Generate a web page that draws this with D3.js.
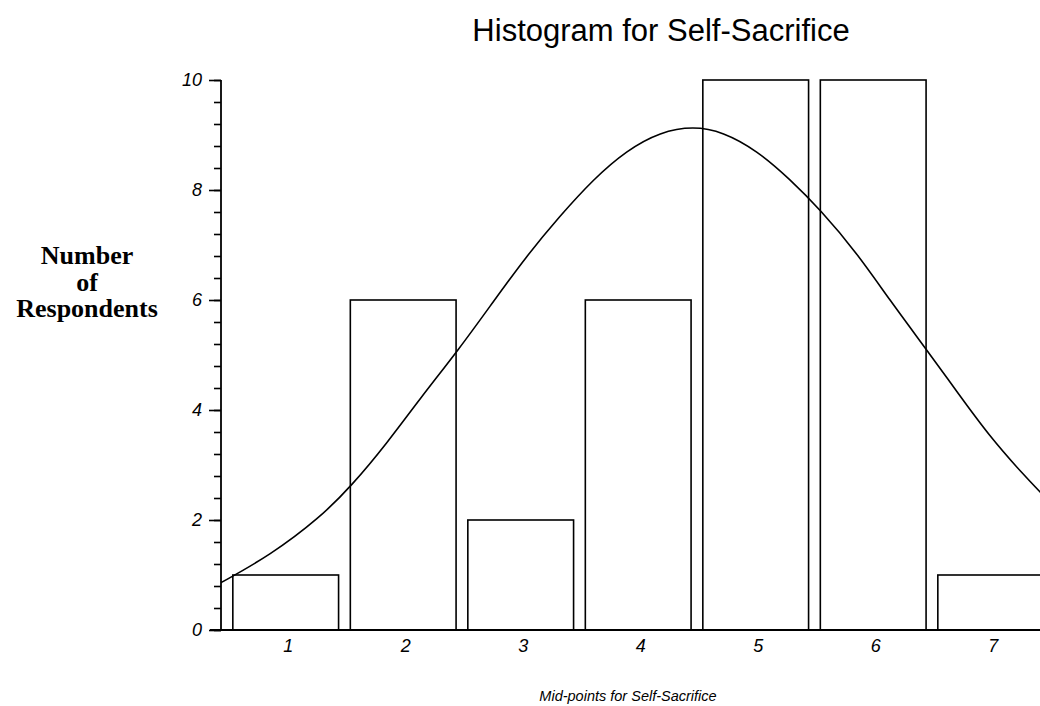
<!DOCTYPE html>
<html>
<head>
<meta charset="utf-8">
<script src="https://cdn.jsdelivr.net/npm/d3@7"></script>
<style>
  html, body { margin: 0; padding: 0; background: #fff; }
  svg { display: block; }
</style>
</head>
<body>
<svg id="chart" width="1040" height="706"></svg>
<script>
// Mid-point categories and their respondent counts
const midpoints = [1, 2, 3, 4, 5, 6, 7];
const counts = [1, 6, 2, 6, 10, 10, 1];

// Fitted normal curve, sampled along the mid-point axis
const curveX = [0.44, 0.87, 1.29, 1.56, 1.86, 2.14, 2.48, 2.77, 3.05, 3.33, 3.62, 3.90, 4.19, 4.47, 4.72, 5.01, 5.29, 5.55, 5.86, 6.14, 6.46, 6.71, 6.99, 7.28, 7.42, 7.6];
const curveY = [0.85, 1.36, 2.04, 2.62, 3.39, 4.20, 5.12, 5.98, 6.80, 7.52, 8.20, 8.72, 9.06, 9.16, 9.06, 8.72, 8.20, 7.64, 6.86, 6.00, 5.08, 4.34, 3.52, 2.82, 2.51, 2.12];

const yMajorTicks = [0, 2, 4, 6, 8, 10];

const svg = d3.select("#chart");

const x = d3.scaleLinear().domain([1, 7]).range([285.7, 990.7]);
const y = d3.scaleLinear().domain([0, 10]).range([630, 80]);
const xLeft = 221, xRight = 1040;

svg.append("defs").append("clipPath").attr("id", "plot")
  .append("rect").attr("x", xLeft).attr("y", 0).attr("width", xRight - xLeft).attr("height", 706);

// Title
svg.append("text")
  .attr("x", 661).attr("y", 41)
  .attr("text-anchor", "middle")
  .style("font-family", "Liberation Sans, Arial, sans-serif")
  .style("font-size", "31px")
  .text("Histogram for Self-Sacrifice");

// Bars
const barW = 0.9;
svg.append("g").attr("clip-path", "url(#plot)")
  .selectAll("rect").data(midpoints).join("rect")
  .attr("x", (d) => x(d - barW / 2))
  .attr("y", (d, i) => y(counts[i]))
  .attr("width", x(1 + barW) - x(1))
  .attr("height", (d, i) => y(0) - y(counts[i]))
  .attr("fill", "#fff")
  .attr("stroke", "#000")
  .attr("stroke-width", 1.6);

// Normal curve
const curvePts = curveX.map((v, i) => [v, curveY[i]]);
svg.append("path")
  .attr("clip-path", "url(#plot)")
  .attr("d", d3.line().x((d) => x(d[0])).y((d) => y(d[1])).curve(d3.curveBasis)(curvePts))
  .attr("fill", "none")
  .attr("stroke", "#000")
  .attr("stroke-width", 1.6);

// Y axis: minor ticks every 0.4, major labelled ticks every 2
const minorTicks = d3.range(0, 10.001, 0.4).map((v) => +v.toFixed(1));
const yMinor = svg.append("g").attr("transform", `translate(${xLeft},0)`)
  .call(d3.axisLeft(y).tickValues(minorTicks).tickSize(7).tickFormat(""));
yMinor.select(".domain").remove();
yMinor.selectAll("line").attr("stroke-width", 1.6);

const yMajor = svg.append("g").attr("transform", `translate(${xLeft},0)`)
  .call(d3.axisLeft(y).tickValues(yMajorTicks).tickSize(12).tickPadding(7).tickFormat(d3.format("d")));
yMajor.select(".domain").remove();
yMajor.selectAll("line").attr("stroke-width", 1.6);
yMajor.selectAll("text")
  .style("font-family", "Liberation Sans, Arial, sans-serif")
  .style("font-style", "italic")
  .style("font-size", "18px")
  .attr("fill", "#000");

svg.append("line")
  .attr("x1", xLeft).attr("x2", xLeft)
  .attr("y1", y(10)).attr("y2", y(0))
  .attr("stroke", "#000").attr("stroke-width", 1.8);

// X axis: baseline and mid-point labels
svg.append("line")
  .attr("x1", 210).attr("x2", xRight)
  .attr("y1", y(0)).attr("y2", y(0))
  .attr("stroke", "#000").attr("stroke-width", 1.8);

const xAxis = svg.append("g").attr("transform", `translate(0,${y(0)})`)
  .call(d3.axisBottom(x).tickValues(midpoints).tickSize(0).tickPadding(9).tickFormat(d3.format("d")));
xAxis.select(".domain").remove();
xAxis.selectAll("text")
  .attr("dx", 2)
  .style("font-family", "Liberation Sans, Arial, sans-serif")
  .style("font-style", "italic")
  .style("font-size", "18px")
  .attr("fill", "#000");

// Axis titles
svg.append("text")
  .attr("x", 628).attr("y", 701)
  .attr("text-anchor", "middle")
  .style("font-family", "Liberation Sans, Arial, sans-serif")
  .style("font-style", "italic")
  .style("font-size", "14.5px")
  .text("Mid-points for Self-Sacrifice");

const yTitle = svg.append("text")
  .attr("text-anchor", "middle")
  .style("font-family", "Liberation Serif, Times New Roman, serif")
  .style("font-weight", "bold")
  .style("font-size", "26px");
["Number", "of", "Respondents"].forEach((t, i) => {
  yTitle.append("tspan").attr("x", 87).attr("y", 264 + i * 26.5).text(t);
});
</script>
</body>
</html>
